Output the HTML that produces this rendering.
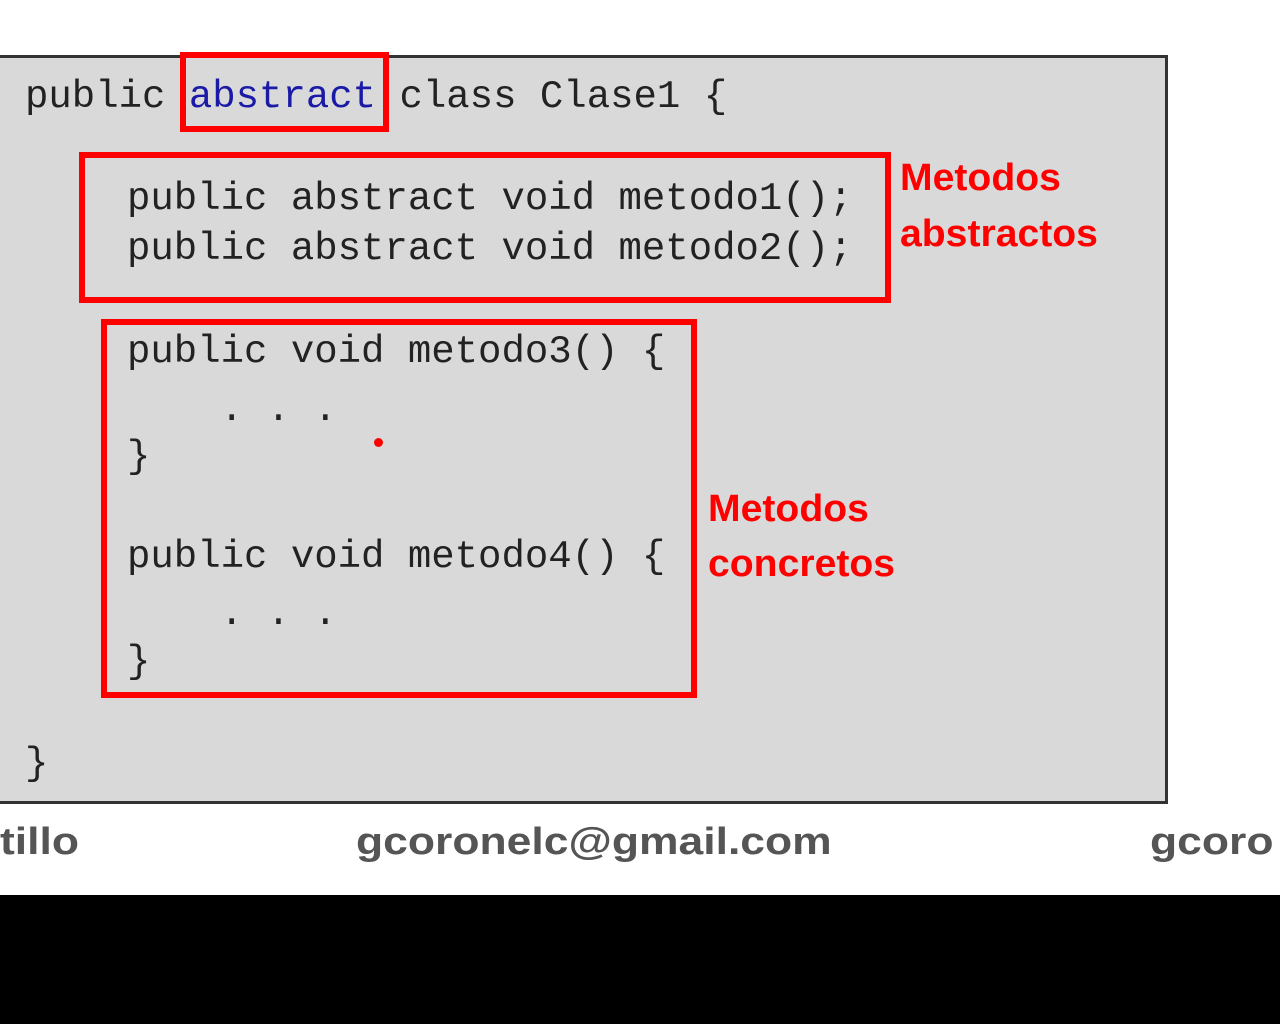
<!DOCTYPE html>
<html><head><style>
body{margin:0;width:1280px;height:1024px;background:#fff;position:relative;overflow:hidden}
.box{position:absolute;left:0;top:55px;width:1165px;height:743px;background:#d9d9d9;border:3px solid #333;border-left:none}
.c{position:absolute;font-family:"Liberation Mono",monospace;font-size:39px;color:#222;line-height:40px;white-space:pre}
.r{position:absolute;border:6px solid #f00;box-sizing:border-box}
.l{position:absolute;font-family:"Liberation Sans",sans-serif;font-weight:bold;font-size:38px;color:#f00;line-height:40px;transform-origin:0 0;transform:scaleX(1.03)}
.f{position:absolute;font-family:"Liberation Sans",sans-serif;font-weight:bold;font-size:38px;color:#555;line-height:40px;top:822px;transform-origin:0 0;transform:scaleX(1.17);white-space:nowrap}
</style></head><body>
<div class="box"></div>
<div class="c" style="left:25px;top:77px">public <span style="color:#1a1aa6">abstract</span> class Clase1 {</div>
<div class="c" style="left:127px;top:179px">public abstract void metodo1();</div>
<div class="c" style="left:127px;top:229px">public abstract void metodo2();</div>
<div class="c" style="left:127px;top:332px">public void metodo3() {</div>
<div class="c" style="left:220px;top:390px">. . .</div>
<div class="c" style="left:127px;top:437px">}</div>
<div class="c" style="left:127px;top:537px">public void metodo4() {</div>
<div class="c" style="left:220px;top:594px">. . .</div>
<div class="c" style="left:127px;top:642px">}</div>
<div class="c" style="left:25px;top:744px">}</div>
<div class="r" style="left:180px;top:52px;width:209px;height:80px"></div>
<div class="r" style="left:79px;top:152px;width:812px;height:151px"></div>
<div class="r" style="left:101px;top:319px;width:596px;height:379px"></div>
<div style="position:absolute;left:374px;top:438px;width:9px;height:9px;border-radius:50%;background:#f00"></div>
<div class="l" style="left:900px;top:158px">Metodos</div>
<div class="l" style="left:900px;top:214px">abstractos</div>
<div class="l" style="left:708px;top:489px">Metodos</div>
<div class="l" style="left:708px;top:544px">concretos</div>
<div class="f" style="left:0">tillo</div>
<div class="f" style="left:356px">gcoronelc@gmail.com</div>
<div class="f" style="left:1150px">gcoro</div>
<div style="position:absolute;left:0;top:895px;width:1280px;height:129px;background:#000"></div>
</body></html>
